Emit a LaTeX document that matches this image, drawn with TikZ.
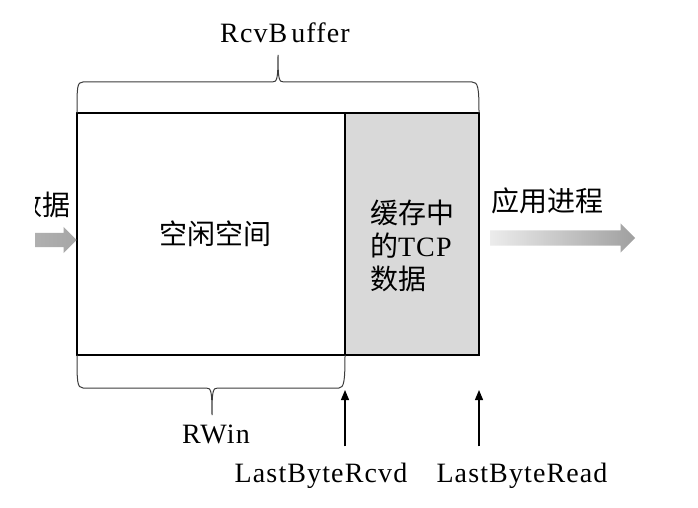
\documentclass[tikz,border=0pt]{standalone}
\usepackage{fontspec}
\setmainfont{Liberation Serif}[LetterSpace=4]
\newfontfamily\cjk{Noto Sans CJK SC}
\usetikzlibrary{calc, arrows.meta, positioning, shapes.arrows}
\definecolor{bufgray}{HTML}{D9D9D9}
\definecolor{bracegray}{HTML}{3C3C3C}

\begin{document}
\begin{tikzpicture}[x=1pt, y=-1pt, >={Triangle[length=10pt, width=8pt]},
  part/.style={draw, line width=2.6pt, minimum height=242pt, inner sep=0pt, outer sep=0pt},
  lbl/.style={inner sep=0pt, anchor=base, font=\fontsize{28}{33}\selectfont},
  cjklbl/.style={inner sep=0pt, font=\fontsize{28}{33}\selectfont\cjk},
  braceline/.style={draw=bracegray, line width=1pt},
  ptr/.style={->, line width=1.2pt},
  fatarrow/.style={single arrow, draw=none, inner xsep=0pt, inner ysep=7.5pt,
    single arrow head extend=7pt, single arrow tip angle=90}]
\fill[white] (0,0) rectangle (698,508);
\useasboundingbox (0,0) rectangle (698,508);

% Nodes
\node (free) [part, minimum width=268pt] at (211,234) {};
\node (buf) [part, fill=bufgray, minimum width=134pt, right=0pt of free] {};
\node (freeLbl) [cjklbl] at (215,234) {空闲空间};
\node (bufLbl) [cjklbl, align=left] at (412,246) {缓存中\\的{\rmfamily TCP}\\数据};
\node (appLbl) [cjklbl] at (547,201) {应用进程};
\node (rcvBufLbl) [lbl] at (285,43) {RcvB\kern4pt uffer};
\node (rwinLbl) [lbl] at (216,443) {RWin};
\node (rcvdLbl) [lbl] at (321,482) {LastByteRcvd};
\node (readLbl) [lbl] at (522,482) {LastByteRead};

% Incoming data (cut off at the left)
\begin{scope}
\clip (35,150) rectangle (77,300);
\node (inLbl) [cjklbl, anchor=east] at (71,205) {数据};
\node (inArrow) [fatarrow, inner ysep=7pt, single arrow head extend=6pt,
  minimum height=80pt, left color=gray!55, right color=gray!70, anchor=tip]
  at ([yshift=-6pt]free.west) {};
\end{scope}

% Outgoing data
\node (outArrow) [fatarrow, minimum height=145pt, left color=gray!15, right color=gray!75,
  anchor=west] at ([xshift=11pt, yshift=-4pt]buf.east) {};

% Braces
\draw[braceline] (free.north west) .. controls +(0,-26) and +(-6,0) .. (83,82) -- (272,82)
  .. controls (277,82) and (278,80) .. (278,55) .. controls (278,80) and (279,82) .. (284,82)
  -- (472,82) .. controls +(6,0) and +(0,-26) .. (buf.north east);
\draw[braceline] (free.south west) .. controls +(0,26) and +(-6,0) .. (83,388) -- (206,388)
  .. controls (211,388) and (212,390) .. (212,415) .. controls (212,390) and (213,388) .. (218,388)
  -- (339,388) .. controls +(5,0) and +(0,26) .. (free.south east);

% Pointers
\draw[ptr] ($(rcvdLbl.north -| buf.south west)+(0,-16)$) -- ($(buf.south west)+(0,35)$);
\draw[ptr] ($(readLbl.north -| buf.south east)+(0,-16)$) -- ($(buf.south east)+(0,35)$);
\end{tikzpicture}
\end{document}
